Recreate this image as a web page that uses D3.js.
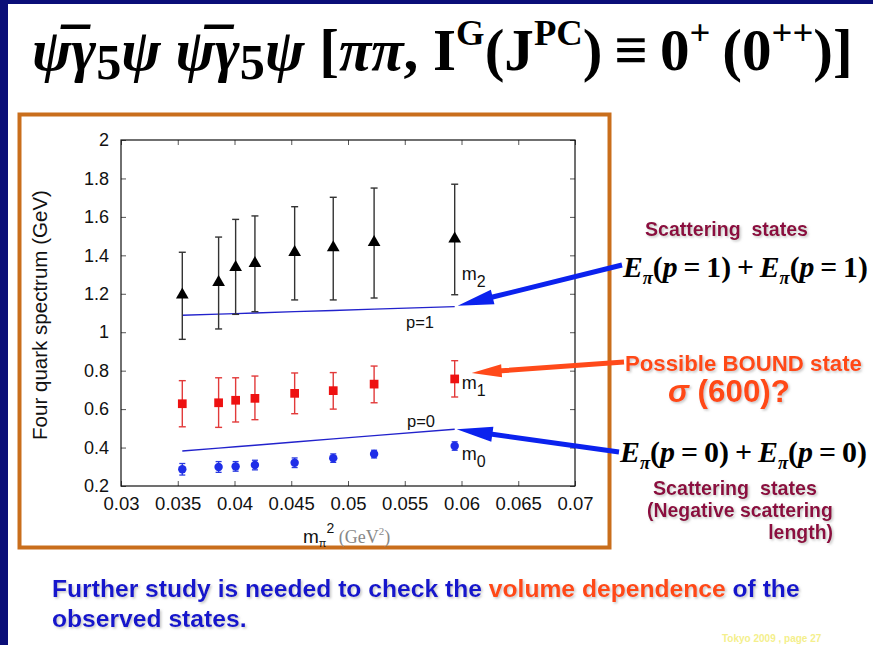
<!DOCTYPE html>
<html><head><meta charset="utf-8">
<script src="https://cdn.jsdelivr.net/npm/d3@7"></script>
<style>body{margin:0;background:#fff;overflow:hidden}svg{display:block}</style>
</head><body><svg id="c" width="873" height="645"></svg>
<script>
// ---------------- data ----------------
const xMass = [0.0354, 0.0386, 0.0401, 0.0418, 0.0453, 0.0487, 0.0523, 0.0594];
const m2   = [1.194, 1.260, 1.338, 1.358, 1.416, 1.440, 1.468, 1.486];
const m2Lo = [0.963, 1.017, 1.093, 1.107, 1.168, 1.168, 1.178, 1.195];
const m2Hi = [1.416, 1.495, 1.587, 1.605, 1.653, 1.702, 1.750, 1.770];
const m1   = [0.628, 0.633, 0.646, 0.656, 0.682, 0.696, 0.730, 0.757];
const m1Lo = [0.508, 0.505, 0.533, 0.545, 0.576, 0.600, 0.633, 0.663];
const m1Hi = [0.748, 0.763, 0.763, 0.772, 0.788, 0.790, 0.824, 0.852];
const m0   = [0.287, 0.299, 0.302, 0.309, 0.321, 0.345, 0.366, 0.408];
const m0Err = [0.030, 0.028, 0.025, 0.025, 0.025, 0.022, 0.020, 0.022];
const p1Line = [1.088, 1.094, 1.097, 1.100, 1.107, 1.113, 1.120, 1.133];
const p0Line = [0.382, 0.397, 0.404, 0.412, 0.429, 0.445, 0.462, 0.495];
const xTicks = [0.03, 0.035, 0.04, 0.045, 0.05, 0.055, 0.06, 0.065, 0.07];
const xTickLabels = ["0.03", "0.035", "0.04", "0.045", "0.05", "0.055", "0.06", "0.065", "0.07"];
const yTicks = [0.2, 0.4, 0.6, 0.8, 1.0, 1.2, 1.4, 1.6, 1.8, 2.0];
const yTickLabels = ["0.2", "0.4", "0.6", "0.8", "1", "1.2", "1.4", "1.6", "1.8", "2"];

// ---------------- setup ----------------
const svg = d3.select("#c");
const SANS = "'Liberation Sans', Arial, sans-serif";
const SERIF = "'Liberation Serif', 'Times New Roman', serif";
const NAVY = "#0a0e78";
const defs = svg.append("defs");
const sh = defs.append("filter").attr("id", "shadow").attr("x", "-5%").attr("y", "-20%").attr("width", "110%").attr("height", "150%");
sh.append("feDropShadow").attr("dx", 1.5).attr("dy", 1.5).attr("stdDeviation", 1).attr("flood-color", "#999").attr("flood-opacity", 0.55);

svg.append("rect").attr("width", 873).attr("height", 645).attr("fill", "#fff");
svg.append("rect").attr("x", 0).attr("y", 0).attr("width", 873).attr("height", 4).attr("fill", NAVY);
svg.append("rect").attr("x", 0).attr("y", 0).attr("width", 8).attr("height", 645).attr("fill", NAVY);

// rich text helper
function rich(g, x, y, size, family, parts, attrs) {
  const t = g.append("text").attr("x", x).attr("y", y).attr("font-family", family)
    .attr("font-size", size).attr("font-weight", "bold");
  if (attrs) Object.entries(attrs).forEach(([k, v]) => t.attr(k, v));
  let prev = 0;
  parts.forEach(p => {
    const shift = (p.shift || 0);
    const s = t.append("tspan").text(p.t)
      .attr("dy", ((shift - prev) * size).toFixed(2))
      .attr("font-size", (p.scale || 1) * size);
    if (p.italic) s.attr("font-style", "italic");
    if (p.fill) s.attr("fill", p.fill);
    if (p.family) s.attr("font-family", p.family);
    prev = shift;
  });
  return t;
}
function fit(t, w) {
  const cur = t.node().getComputedTextLength();
  const fs = +t.attr("font-size");
  const k = w / cur;
  t.attr("font-size", fs * k);
  t.selectAll("tspan").each(function () {
    const s = d3.select(this);
    const f = s.attr("font-size");
    if (f !== null) s.attr("font-size", +f * k);
    const dy = s.attr("dy");
    if (dy !== null) s.attr("dy", +dy * k);
  });
  return t;
}

// ---------------- title ----------------
const psiBar = "\u03C8\u0305";
const title = rich(svg, 32, 70, 50, SERIF, [
  { t: psiBar, italic: true }, { t: "\u03B3", italic: true }, { t: "5", shift: 0.15, scale: 0.85 },
  { t: "\u03C8", italic: true }, { t: "\u00A0" },
  { t: psiBar, italic: true }, { t: "\u03B3", italic: true }, { t: "5", shift: 0.15, scale: 0.85 },
  { t: "\u03C8", italic: true }, { t: "\u00A0[" }, { t: "\u03C0\u03C0", italic: true }, { t: ", I" },
  { t: "G", shift: -0.42, scale: 0.62 }, { t: "(J" }, { t: "PC", shift: -0.42, scale: 0.62 },
  { t: ")\u2009\u2261\u20090" }, { t: "+", shift: -0.42, scale: 0.62 }, { t: "\u2009(0" },
  { t: "++", shift: -0.42, scale: 0.62 }, { t: ")]" }
], { fill: "#000" });
fit(title, 821);

// ---------------- orange frame ----------------
svg.append("rect").attr("x", 19.5).attr("y", 114.5).attr("width", 590).attr("height", 433)
  .attr("fill", "#fff").attr("stroke", "#c96e1c").attr("stroke-width", 4);

// ---------------- plot ----------------
const x = d3.scaleLinear().domain([0.03, 0.07]).range([121, 575]);
const y = d3.scaleLinear().domain([0.2, 2]).range([486, 140]);
const plot = svg.append("g");

function styleAxis(g) {
  g.select(".domain").remove();
  g.selectAll(".tick line").attr("stroke", "#555").attr("stroke-width", 1);
  g.selectAll(".tick text").attr("fill", "#111").attr("font-family", SANS);
}
plot.append("g").attr("transform", "translate(0,486)")
  .call(d3.axisBottom(x).tickValues(xTicks).tickFormat((d, i) => xTickLabels[i]).tickSize(-5).tickPadding(11))
  .call(styleAxis).selectAll("text").attr("font-size", 18.5);
plot.append("g").attr("transform", "translate(0,140)")
  .call(d3.axisTop(x).tickValues(xTicks).tickFormat("").tickSize(-5)).call(styleAxis);
plot.append("g").attr("transform", "translate(121,0)")
  .call(d3.axisLeft(y).tickValues(yTicks).tickFormat((d, i) => yTickLabels[i]).tickSize(-5).tickPadding(12))
  .call(styleAxis).selectAll("text").attr("font-size", 18);
plot.append("g").attr("transform", "translate(575,0)")
  .call(d3.axisRight(y).tickValues(yTicks).tickFormat("").tickSize(-5)).call(styleAxis);
plot.append("rect").attr("x", 121).attr("y", 140).attr("width", 454).attr("height", 346)
  .attr("fill", "none").attr("stroke", "#111").attr("stroke-width", 1.2);

// theory lines
const lineGen = arr => d3.line().x((d, i) => x(xMass[i])).y(d => y(d))(arr);
plot.append("path").attr("d", lineGen(p1Line)).attr("fill", "none").attr("stroke", "#2222cc").attr("stroke-width", 1.4);
plot.append("path").attr("d", lineGen(p0Line)).attr("fill", "none").attr("stroke", "#2222cc").attr("stroke-width", 1.4);

// error bars
function errBars(lo, hi, color, cap, w) {
  const g = plot.append("g").attr("stroke", color).attr("stroke-width", w);
  xMass.forEach((xv, i) => {
    const cx = x(xv);
    g.append("line").attr("x1", cx).attr("x2", cx).attr("y1", y(lo[i])).attr("y2", y(hi[i]));
    g.append("line").attr("x1", cx - cap).attr("x2", cx + cap).attr("y1", y(lo[i])).attr("y2", y(lo[i]));
    g.append("line").attr("x1", cx - cap).attr("x2", cx + cap).attr("y1", y(hi[i])).attr("y2", y(hi[i]));
  });
}
errBars(m2Lo, m2Hi, "#333", 3.5, 1.4);
errBars(m1Lo, m1Hi, "#e23a3a", 3.5, 1.4);
errBars(m0.map((v, i) => v - m0Err[i]), m0.map((v, i) => v + m0Err[i]), "#2a3ae0", 3, 1.3);

plot.selectAll(".tri").data(m2).join("path").attr("class", "tri")
  .attr("transform", (d, i) => `translate(${x(xMass[i])},${y(d)})`)
  .attr("d", d3.symbol(d3.symbolTriangle, 70)).attr("fill", "#000");
plot.selectAll(".sq").data(m1).join("path").attr("class", "sq")
  .attr("transform", (d, i) => `translate(${x(xMass[i])},${y(d)})`)
  .attr("d", d3.symbol(d3.symbolSquare, 76)).attr("fill", "#ee1111");
plot.selectAll(".ci").data(m0).join("path").attr("class", "ci")
  .attr("transform", (d, i) => `translate(${x(xMass[i])},${y(d)})`)
  .attr("d", d3.symbol(d3.symbolCircle, 56)).attr("fill", "#1f2ee8");

// in-plot labels
const lastX = x(xMass[xMass.length - 1]);
function mLabel(px, py, sub) {
  const t = plot.append("text").attr("x", px).attr("y", py).attr("font-family", SANS).attr("font-size", 18).attr("fill", "#111");
  t.append("tspan").text("m");
  t.append("tspan").text(sub).attr("dy", 7).attr("font-size", 16);
}
mLabel(lastX + 7, 280, "2");
mLabel(lastX + 7, 389, "1");
mLabel(lastX + 7, 460, "0");
plot.append("text").attr("x", 420).attr("y", 328).attr("text-anchor", "middle").attr("font-family", SANS).attr("font-size", 16.5).attr("fill", "#111").text("p=1");
plot.append("text").attr("x", 421).attr("y", 427).attr("text-anchor", "middle").attr("font-family", SANS).attr("font-size", 16.5).attr("fill", "#111").text("p=0");

// axis titles
const yl = svg.append("text").attr("transform", "translate(47,315) rotate(-90)").attr("text-anchor", "middle")
  .attr("font-family", SANS).attr("font-size", 15.5).attr("fill", "#111").text("Four quark spectrum (GeV)");
fit(yl, 250);
const xl = svg.append("text").attr("x", 303).attr("y", 543).attr("font-family", SANS).attr("font-size", 19).attr("fill", "#111");
xl.append("tspan").text("m");
xl.append("tspan").text("\u03C0").attr("font-size", 11).attr("dy", 4);
xl.append("tspan").text("2").attr("font-size", 14).attr("dy", -14);
xl.append("tspan").text("\u00A0(GeV").attr("font-family", SERIF).attr("font-weight", "normal").attr("fill", "#888").attr("font-size", 18).attr("dy", 10);
xl.append("tspan").text("2").attr("font-family", SERIF).attr("fill", "#888").attr("font-size", 11).attr("dy", -8);
xl.append("tspan").text(")").attr("font-family", SERIF).attr("fill", "#888").attr("font-size", 18).attr("dy", 8);

// ---------------- arrows ----------------
function arrow(x1, y1, x2, y2, sw, hl, hw, color) {
  const dx = x2 - x1, dy = y2 - y1, L = Math.hypot(dx, dy);
  const ux = dx / L, uy = dy / L, nx = -uy, ny = ux;
  const bx = x2 - ux * hl, by = y2 - uy * hl;
  const pts = [
    [x1 + nx * sw / 2, y1 + ny * sw / 2], [bx + nx * sw / 2, by + ny * sw / 2], [bx + nx * hw / 2, by + ny * hw / 2],
    [x2, y2], [bx - nx * hw / 2, by - ny * hw / 2], [bx - nx * sw / 2, by - ny * sw / 2], [x1 - nx * sw / 2, y1 - ny * sw / 2]
  ];
  svg.append("polygon").attr("points", pts.map(p => p.join(",")).join(" ")).attr("fill", color);
}
arrow(622, 265, lastX + 3, y(p1Line[7]) - 1, 5, 36, 15, "#0b22ee");
arrow(624, 362, lastX + 17, y(m1[7]) - 6, 5, 30, 13, "#ff4a1a");
arrow(619, 452, lastX + 2, y(p0Line[7]), 5, 36, 15, "#0b22ee");

// ---------------- right annotations ----------------
const MAROON = "#8c0f40", ORANGE = "#ff4a12";
function sansText(px, py, txt, size, color, anchor) {
  return svg.append("text").attr("x", px).attr("y", py).attr("font-family", SANS).attr("font-size", size)
    .attr("font-weight", "bold").attr("fill", color).attr("text-anchor", anchor || "start")
    .attr("filter", "url(#shadow)").text(txt);
}
fit(sansText(645, 236, "Scattering\u00A0 states", 16, MAROON), 163);
const e1 = rich(svg, 623, 277, 30, SERIF, [
  { t: "E", italic: true }, { t: "\u03C0", italic: true, shift: 0.25, scale: 0.62 }, { t: "(" },
  { t: "p", italic: true }, { t: "\u2009=\u20091)\u2009+\u2009" }, { t: "E", italic: true },
  { t: "\u03C0", italic: true, shift: 0.25, scale: 0.62 }, { t: "(" }, { t: "p", italic: true }, { t: "\u2009=\u20091)" }
], { fill: "#000" });
fit(e1, 245);
fit(sansText(625, 371, "Possible BOUND state", 19, ORANGE), 237);
const sig = rich(svg, 668, 402, 22, SANS, [{ t: "\u03C3", italic: true }, { t: "\u00A0(600)?" }], { fill: ORANGE, filter: "url(#shadow)" });
fit(sig, 122);
const e0 = rich(svg, 620, 462, 30, SERIF, [
  { t: "E", italic: true }, { t: "\u03C0", italic: true, shift: 0.25, scale: 0.62 }, { t: "(" },
  { t: "p", italic: true }, { t: "\u2009=\u20090)\u2009+\u2009" }, { t: "E", italic: true },
  { t: "\u03C0", italic: true, shift: 0.25, scale: 0.62 }, { t: "(" }, { t: "p", italic: true }, { t: "\u2009=\u20090)" }
], { fill: "#000" });
fit(e0, 247);
fit(sansText(653, 495, "Scattering\u00A0 states", 16, MAROON), 164);
const neg = fit(sansText(647, 517, "(Negative scattering", 16, MAROON), 186);
sansText(833, 539, "length)", neg.attr("font-size"), MAROON, "end");

// ---------------- bottom note ----------------
const BLUE = "#1616cc";
const n1 = svg.append("text").attr("x", 52).attr("y", 597).attr("font-family", SANS).attr("font-size", 20)
  .attr("font-weight", "bold").attr("fill", BLUE).attr("filter", "url(#shadow)");
n1.append("tspan").text("Further study is needed to check the\u00A0");
n1.append("tspan").text("volume dependence").attr("fill", ORANGE);
n1.append("tspan").text("\u00A0of the");
fit(n1, 748);
svg.append("text").attr("x", 52).attr("y", 627).attr("font-family", SANS)
  .attr("font-size", n1.attr("font-size")).attr("font-weight", "bold").attr("fill", BLUE)
  .attr("filter", "url(#shadow)").text("observed states.");

svg.append("text").attr("x", 722).attr("y", 642).attr("font-family", SANS).attr("font-size", 10)
  .attr("font-weight", "bold").attr("fill", "#f4ef8c").text("Tokyo 2009 , page 27");
</script></body></html>
